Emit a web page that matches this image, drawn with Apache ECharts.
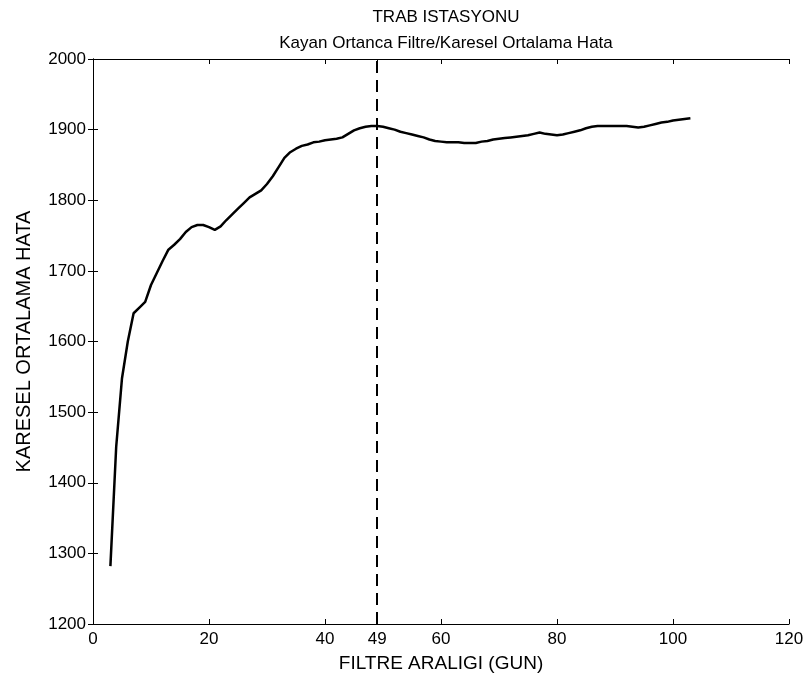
<!DOCTYPE html>
<html><head><meta charset="utf-8">
<script src="https://cdn.jsdelivr.net/npm/echarts@6/dist/echarts.min.js"></script>
<style>html,body{margin:0;padding:0;background:#fff}#c{width:808px;height:684px}</style>
</head><body><div id="c"></div>
<script>
const titleText = 'TRAB ISTASYONU';
const subtitleText = 'Kayan Ortanca Filtre/Karesel Ortalama Hata';
const xAxisName = 'FILTRE ARALIGI (GUN)';
const yAxisName = 'KARESEL ORTALAMA HATA';
const xTicks = [0, 20, 40, 49, 60, 80, 100, 120];
const markerX = 49;
const filterSize = [3,4,5,6,7,8,9,10,11,12,13,14,15,16,17,18,19,20,21,22,23,24,25,26,27,28,29,30,31,32,33,34,35,36,37,38,39,40,41,42,43,44,45,46,47,48,49,50,51,52,53,54,55,56,57,58,59,60,61,62,63,64,65,66,67,68,69,70,71,72,73,74,75,76,77,78,79,80,81,82,83,84,85,86,87,88,89,90,91,92,93,94,95,96,97,98,99,100,101,102,103];
const rmse = [1282,1451,1548,1600,1640,1648,1656,1680,1697,1714,1730,1737,1745,1755,1762,1765,1765,1762,1758,1763,1772,1780,1788,1796,1804,1809,1814,1823,1834,1847,1860,1868,1873,1877,1879,1882,1883,1885,1886,1887,1889,1894,1899,1902,1904,1905,1905,1904,1902,1900,1897,1895,1893,1891,1889,1886,1884,1883,1882,1882,1882,1881,1881,1881,1883,1884,1886,1887,1888,1889,1890,1891,1892,1894,1896,1894,1893,1892,1893,1895,1897,1899,1902,1904,1905,1905,1905,1905,1905,1905,1904,1903,1904,1906,1908,1910,1911,1913,1914,1915,1916];

const font = '"Liberation Sans", Arial, sans-serif';
const chart = echarts.init(document.getElementById('c'), null, {renderer: 'canvas'});
const axisLineStyle = {color: '#000', width: 1};
chart.setOption({
  backgroundColor: '#fff',
  animation: false,
  title: [
    {text: titleText, left: 441, top: 4, textAlign: 'center',
     textStyle: {fontFamily: font, fontSize: 17, fontWeight: 'normal', color: '#000'}},
    {text: subtitleText, left: 441, top: 30, textAlign: 'center',
     textStyle: {fontFamily: font, fontSize: 17, fontWeight: 'normal', color: '#000'}}
  ],
  grid: {left: 93, right: 19, top: 59, bottom: 60, containLabel: false},
  xAxis: [
    {type: 'value', min: 0, max: 120, position: 'bottom',
     name: xAxisName, nameLocation: 'middle', nameGap: 30,
     nameTextStyle: {fontFamily: font, fontSize: 19, color: '#000'},
     axisLine: {show: true, lineStyle: axisLineStyle},
     axisTick: {show: true, inside: true, length: 5, customValues: xTicks, lineStyle: axisLineStyle},
     axisLabel: {customValues: xTicks, fontFamily: font, fontSize: 17, color: '#000', margin: 7},
     splitLine: {show: false}},
    {type: 'value', min: 0, max: 120, position: 'top',
     axisLine: {show: true, lineStyle: axisLineStyle},
     axisTick: {show: true, inside: true, length: 5, customValues: xTicks, lineStyle: axisLineStyle},
     axisLabel: {show: false}, splitLine: {show: false}}
  ],
  yAxis: [
    {type: 'value', min: 1200, max: 2000, interval: 100, position: 'left',
     name: yAxisName, nameLocation: 'middle', nameGap: 59, nameRotate: 90,
     nameTextStyle: {fontFamily: font, fontSize: 20, color: '#000'},
     axisLine: {show: true, lineStyle: axisLineStyle},
     axisTick: {show: true, inside: true, length: 5, lineStyle: axisLineStyle},
     axisLabel: {formatter: v => String(v), fontFamily: font, fontSize: 17, color: '#000', margin: 7},
     splitLine: {show: false}},
    {type: 'value', min: 1200, max: 2000, interval: 100, position: 'right',
     axisLine: {show: true, lineStyle: axisLineStyle},
     axisTick: {show: true, inside: true, length: 5, lineStyle: axisLineStyle},
     axisLabel: {show: false}, splitLine: {show: false}}
  ],
  series: [{
    type: 'line',
    data: filterSize.map((x, i) => [x, rmse[i]]),
    showSymbol: false,
    symbol: 'none',
    lineStyle: {color: '#000', width: 2.5},
    markLine: {
      silent: true, symbol: 'none', label: {show: false},
      lineStyle: {color: '#000', type: [12, 7], width: 2},
      data: [{xAxis: markerX}]
    }
  }]
});
</script></body></html>
